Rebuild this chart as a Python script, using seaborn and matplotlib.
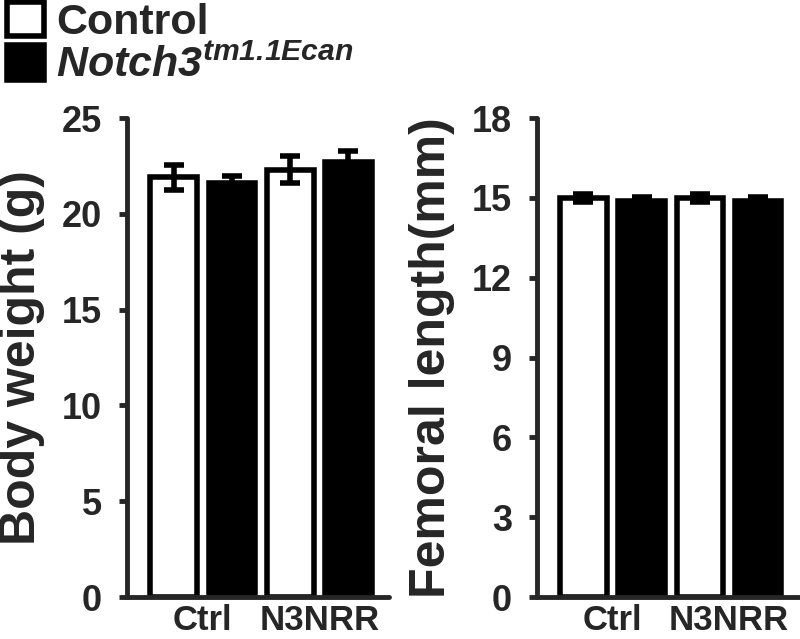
import numpy as np
import pandas as pd
import matplotlib
matplotlib.use("Agg")
import matplotlib.pyplot as plt
import seaborn as sns
from matplotlib.patches import Patch

# data
groups = ["Ctrl", "N3NRR"]
genotypes = ["Control", "Notch3"]
weight_mean = [21.9, 21.6, 22.3, 22.7]
weight_err = [0.65, 0.4, 0.7, 0.6]
femur_mean = [15.0, 14.9, 15.0, 14.9]
femur_err = [0.15, 0.15, 0.15, 0.15]

sns.set_theme(style="ticks")
plt.rcParams["font.family"] = ["Liberation Sans", "DejaVu Sans"]
plt.rcParams["font.weight"] = "bold"
plt.rcParams["mathtext.fontset"] = "custom"
plt.rcParams["mathtext.it"] = "Liberation Sans:italic:bold"
plt.rcParams["mathtext.rm"] = "Liberation Sans:italic:bold"

df = pd.DataFrame({
    "group": np.repeat(groups, 2),
    "genotype": genotypes * 2,
    "weight": weight_mean,
    "weight_err": weight_err,
    "femur": femur_mean,
    "femur_err": femur_err,
})

fig = plt.figure(figsize=(8, 6.39), dpi=100)
ax1 = fig.add_axes([0.159, 0.0657, 0.3275, 0.7496])
ax2 = fig.add_axes([0.671, 0.0657, 0.3275, 0.7496])

pal = {"Control": "white", "Notch3": "black"}


def draw(ax, col, ecol, ymax, step, ylabel):
    sns.barplot(data=df, x="group", y=col, hue="genotype", order=groups,
                hue_order=genotypes, palette=pal, width=1.0, gap=0.2,
                edgecolor="black", linewidth=4, errorbar=None, legend=False, ax=ax)
    # error bars on top of each bar
    bars = [p for p in ax.patches]
    xs = [b.get_x() + b.get_width() / 2 for b in bars]
    hs = [b.get_height() for b in bars]
    errs = []
    for b in bars:
        xc = b.get_x() + b.get_width() / 2
        g = groups[int(round(xc))]
        gt = genotypes[0] if xc < round(xc) else genotypes[1]
        errs.append(df.loc[(df.group == g) & (df.genotype == gt), ecol].values[0])
    eb = ax.errorbar(xs, hs, yerr=errs, fmt="none", ecolor="black", elinewidth=4,
                     capsize=7, capthick=4, zorder=5)
    for c in eb[1]:
        c.set_solid_capstyle("round")
    ax.set_xlim(-0.65, 1.6)
    ax.set_ylim(0, ymax)
    ax.set_yticks(np.arange(0, ymax + 1, step))
    ax.set_xlabel("")
    ax.set_ylabel(ylabel, fontsize=36, fontweight="bold", labelpad=12)
    for s in ["top", "right"]:
        ax.spines[s].set_visible(False)
    for s in ["left", "bottom"]:
        ax.spines[s].set_linewidth(3.5)
        ax.spines[s].set_capstyle("round")
    ax.tick_params(axis="y", length=6, width=3.5, labelsize=26, pad=12)
    ax.tick_params(axis="x", length=0, labelsize=25, pad=5)
    for t in ax.get_xticklabels() + ax.get_yticklabels():
        t.set_fontweight("bold")


draw(ax1, "weight", "weight_err", 25, 5, "Body weight (g)")
draw(ax2, "femur", "femur_err", 18, 3, "Femoral length(mm)")

handles = [Patch(facecolor="white", edgecolor="black", linewidth=4),
           Patch(facecolor="black", edgecolor="black", linewidth=4)]
labels = ["Control", r"$Notch3^{tm1.1Ecan}$"]
fig.legend(handles, labels, loc="upper left", bbox_to_anchor=(0.006, 1.0),
           frameon=False, fontsize=31, handlelength=0.85, handleheight=0.85,
           handletextpad=0.3, labelspacing=0.05, borderpad=0.05, borderaxespad=0)

fig.savefig("out.png", dpi=100)
